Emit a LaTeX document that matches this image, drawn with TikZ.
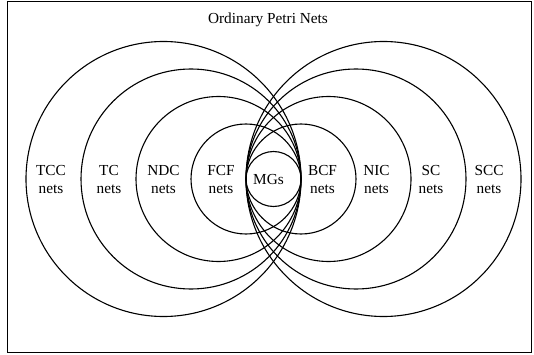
\documentclass[tikz,border=0pt]{standalone}
\usepackage{fontspec}
\setmainfont{Liberation Serif}
\begin{document}
\begin{tikzpicture}[x=1pt,y=-1pt,
  ring/.style={circle, draw, line width=1.1pt, inner sep=0pt, outer sep=0pt, minimum size=#1},
  lbl/.style={align=center, inner sep=0pt, font=\fontsize{15.3}{18}\selectfont},
  frame/.style={line width=1pt}
]
\useasboundingbox (0,0) rectangle (534,355);
\draw[frame] (7.3,1.7) rectangle (531.5,352.5);
% title
\node[lbl, anchor=base] (title) at (268,24) {Ordinary Petri Nets};
% left family (tangent at right point x=301)
\node[ring=55pt]  (mg)  at (273.5,179) {};
\node[ring=110pt] (fcf) at (246,179) {};
\node[ring=165pt] (ndc) at (218.5,179) {};
\node[ring=220pt] (tc)  at (191,179) {};
\node[ring=275pt] (tcc) at (163.5,179) {};
% right family (tangent at left point x=246)
\node[ring=110pt] (bcf) at (301,179) {};
\node[ring=165pt] (nic) at (328.5,179) {};
\node[ring=220pt] (sc)  at (356,179) {};
\node[ring=275pt] (scc) at (383.5,179) {};
% labels
\node[lbl] (ltcc) at (51,180) {TCC\\nets};
\node[lbl] (ltc)  at (109,180) {TC\\nets};
\node[lbl] (lndc) at (163.5,180) {NDC\\nets};
\node[lbl] (lfcf) at (221,180) {FCF\\nets};
\node[lbl] (lmg)  at (268.5,180) {MGs};
\node[lbl] (lbcf) at (322.5,180) {BCF\\nets};
\node[lbl] (lnic) at (376.5,180) {NIC\\nets};
\node[lbl] (lsc)  at (431,180) {SC\\nets};
\node[lbl] (lscc) at (489,180) {SCC\\nets};
\end{tikzpicture}
\end{document}
